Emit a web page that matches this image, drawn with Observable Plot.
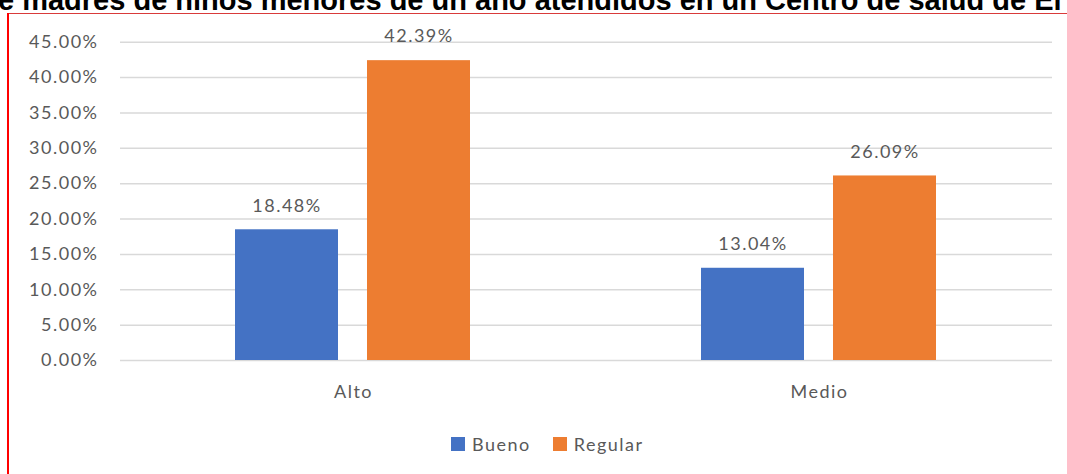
<!DOCTYPE html>
<html><head><meta charset="utf-8">
<script src="https://cdn.jsdelivr.net/npm/d3@7"></script>
<script src="https://cdn.jsdelivr.net/npm/@observablehq/plot@0.6"></script>
<style>
html,body{margin:0;padding:0;background:#fff;width:1067px;height:474px;overflow:hidden;}
#wrap{position:relative;width:1067px;height:474px;overflow:hidden;}
#title{position:absolute;left:-2px;top:-14px;white-space:nowrap;font:bold 29px "Liberation Sans",Arial,sans-serif;color:#000;line-height:29px;}
#hline{position:absolute;left:7px;top:13px;width:1060px;height:1px;background:#d93a3a;}
#vline{position:absolute;left:7px;top:13px;width:2px;height:461px;background:#ff0000;}
#chart{position:absolute;left:0;top:14px;}
#legend{position:absolute;left:451px;top:427px;}
#legend .lg-swatch > svg{margin-right:7px;}
#legend .lg-swatch{margin-right:22px;letter-spacing:1.5px;}
</style>
</head><body>
<div id="wrap">
  <div id="title">e madres de niños menores de un año atendidos en un Centro de salud de El</div>
  <div id="chart"></div>
  <div id="legend"></div>
  <div id="hline"></div>
  <div id="vline"></div>
</div>
<script>
const categories = ["Alto", "Medio"];
const series = ["Bueno", "Regular"];
const bueno = [0.1848, 0.1304];
const regular = [0.4239, 0.2609];
const colors = ["#4472C4", "#ED7D31"];
const yTicks = [0, 0.05, 0.10, 0.15, 0.20, 0.25, 0.30, 0.35, 0.40, 0.45];

const rows = categories.flatMap((c, i) => [
  {category: c, series: series[0], value: bueno[i]},
  {category: c, series: series[1], value: regular[i]}
]);
const fmt = d3.format(".2%");

const chart = Plot.plot({
  width: 1067,
  height: 400,
  marginLeft: 119,
  marginRight: 15,
  marginTop: 27.7,
  marginBottom: 54,
  style: {fontFamily: "Lato, sans-serif", fontSize: "18px", color: "#595959", background: "transparent", overflow: "visible", letterSpacing: "1.5px"},
  facet: {data: rows, x: "category"},
  fx: {domain: categories, padding: 0, axis: "bottom", tickSize: 0, tickPadding: 25, label: null},
  x: {domain: series, paddingInner: 0.218, paddingOuter: 0.863, axis: null},
  y: {domain: [0, 0.45], ticks: yTicks, tickFormat: fmt, tickSize: 0, tickPadding: 22, label: null},
  color: {domain: series, range: colors},
  marks: [
    Plot.ruleY(yTicks, {stroke: "#d9d9d9", strokeWidth: 1.5}),
    Plot.barY(rows, {x: "series", y: "value", fill: "series"}),
    Plot.text(rows, {x: "series", y: "value", text: d => fmt(d.value), dy: -24, fill: "#595959"})
  ]
});
document.getElementById("chart").appendChild(chart);

const legend = Plot.legend({
  color: {domain: series, range: colors},
  swatchSize: 14,
  className: "lg",
  style: {fontFamily: "Lato, sans-serif", fontSize: "18px", color: "#595959"}
});
document.getElementById("legend").appendChild(legend);
</script>
</body></html>
